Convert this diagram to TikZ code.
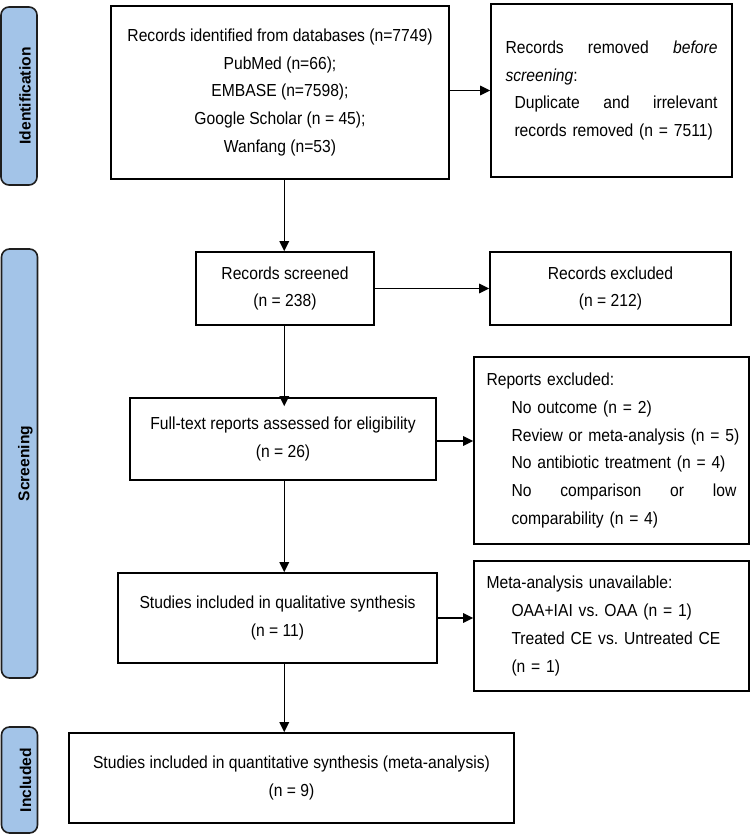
\documentclass[tikz,border=0pt]{standalone}
\usepackage{fontspec}
\setmainfont{Liberation Sans}[FakeStretch=0.9]
\newfontfamily\labelfont{Liberation Sans}
\usetikzlibrary{arrows.meta}
\definecolor{barblue}{RGB}{163,196,232}
\definecolor{barline}{RGB}{30,30,30}
\tikzset{
  box/.style={draw=black, line width=1.6pt, inner sep=0pt, align=center,
    font=\fontsize{17.4}{27.7}\selectfont\frenchspacing},
  jbox/.style={draw=black, line width=1.6pt, inner ysep=0pt, align=left,
    font=\fontsize{17.4}{27.7}\selectfont\frenchspacing},
  phasebar/.style={draw=barline, fill=barblue, line width=1.6pt, rounded corners=8pt,
    minimum width=36pt, inner sep=0pt},
  phaselabel/.style={rotate=90, inner sep=0pt, font=\labelfont\fontsize{15.6}{18}\selectfont\bfseries},
  flow/.style={line width=1.5pt, -{Triangle[length=10pt,width=9.5pt]}}
}
\begin{document}
\begin{tikzpicture}[x=1pt,y=-1pt]
\useasboundingbox (0,0) rectangle (752,834);

% phase bars
\node[phasebar, minimum height=178pt] (idbar) at (19,96) {};
\node[phaselabel] (idlab) at ([xshift=6pt]idbar.center) {Identification};
\node[phasebar, minimum height=429pt] (scbar) at (19.5,463.5) {};
\node[phaselabel] (sclab) at ([xshift=6pt]scbar.center) {Screening};
\node[phasebar, minimum height=106pt] (inbar) at (19.5,780) {};
\node[phaselabel] (inlab) at ([xshift=6pt]inbar.center) {Included};

% boxes
\node[box, minimum width=338pt, minimum height=173pt] (b1) at (280,92.5)
  {Records identified from databases (n=7749)\\ PubMed (n=66);\\ EMBASE (n=7598);\\
   Google Scholar (n = 45);\\ Wanfang (n=53)};
\node[jbox, text width=212pt, inner xsep=14.5pt, minimum height=173pt] (b2) at (611.5,90.5)
  {Records\hfill removed\hfill \textit{before}\\
   \textit{screening}:\\
   \hspace*{9pt}Duplicate\hfill and\hfill irrelevant\\
   \hspace*{9pt}\mbox{records removed (n = 7511)}};
\node[box, minimum width=178pt, minimum height=73pt] (b3) at (285,288.5)
  {Records screened\\ (n = 238)};
\node[box, minimum width=241pt, minimum height=73pt] (b4) at (610.5,288.5)
  {Records excluded\\ (n = 212)};
\node[box, minimum width=306pt, minimum height=82pt] (b5) at (283,439)
  {Full-text reports assessed for eligibility\\ (n = 26)};
\node[jbox, text width=250pt, inner xsep=12.5pt, minimum height=187pt] (b6) at (611.5,450.5)
  {\mbox{Reports excluded:}\\
   \hspace*{25pt}\mbox{No outcome (n = 2)}\\
   \hspace*{25pt}\mbox{Review or meta-analysis (n = 5)}\\
   \hspace*{25pt}\mbox{No antibiotic treatment (n = 4)}\\
   \hspace*{25pt}No\hfill comparison\hfill or\hfill low\hspace*{2pt}\\
   \hspace*{25pt}\mbox{comparability (n = 4)}};
\node[box, minimum width=319pt, minimum height=90pt] (b7) at (277.5,618)
  {Studies included in qualitative synthesis\\ (n = 11)};
\node[jbox, text width=250pt, inner xsep=12.5pt, minimum height=130pt] (b8) at (611.5,626)
  {\mbox{Meta-analysis unavailable:}\\
   \hspace*{25pt}\mbox{OAA+IAI vs. OAA (n = 1)}\\
   \hspace*{25pt}\mbox{Treated CE vs. Untreated CE}\\
   \hspace*{25pt}\mbox{(n = 1)}};
\node[box, minimum width=445pt, minimum height=90pt] (b9) at (291.5,778)
  {Studies included in quantitative synthesis (meta-analysis)\\ (n = 9)};

% main column
\coordinate (col) at (284.3,0);

% connectors
\draw[flow] (b1.south -| col) -- (b3.north -| col);
\draw[flow] (b3.south -| col) -- ([yshift=-9pt]b5.north -| col);
\draw[flow] (b5.south -| col) -- (b7.north -| col);
\draw[flow] (b7.south -| col) -- (b9.north -| col);

\draw[flow] (b1.east |- b2.west) -- (b2.west);
\draw[flow] (b3.east) -- (b3.east -| b4.west);
\draw[flow] ([yshift=-2pt]b5.east) -- ([yshift=-2pt]b5.east -| b6.west);
\draw[flow] (b7.east) -- (b7.east -| b8.west);
\end{tikzpicture}
\end{document}
